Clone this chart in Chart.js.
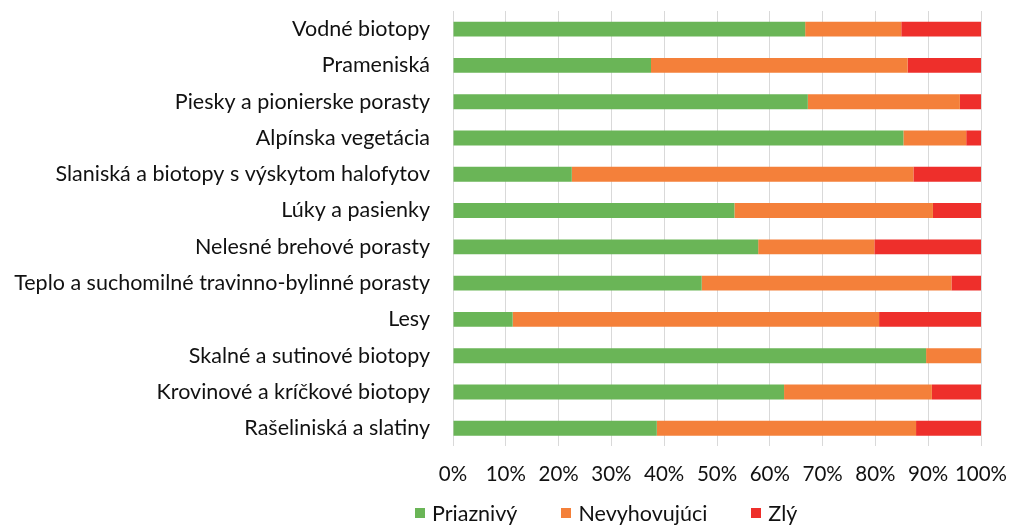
<!DOCTYPE html>
<html>
<head>
<meta charset="utf-8">
<script src="https://cdn.jsdelivr.net/npm/chart.js@4/dist/chart.umd.min.js"></script>
<style>
  html, body { margin: 0; padding: 0; background: #fff; }
  #wrap { position: relative; width: 1009px; height: 525px; }
  #legend {
    position: absolute; top: 502px; left: 415px; line-height: 22px;
    display: flex; font-family: Lato, "Noto Sans", sans-serif; font-size: 21.5px; color: #111;
  }
  #legend .item { display: flex; align-items: center; margin-right: 44px; }
  #legend .box { width: 10px; height: 10px; margin-right: 7px; }
</style>
</head>
<body>
<div id="wrap">
  <canvas id="chart" width="1009" height="525"></canvas>
  <div id="legend"></div>
</div>
<script>
const categories = [
  "Vodné biotopy",
  "Prameniská",
  "Piesky a pionierske porasty",
  "Alpínska vegetácia",
  "Slaniská a biotopy s výskytom halofytov",
  "Lúky a pasienky",
  "Nelesné brehové porasty",
  "Teplo a suchomilné travinno-bylinné porasty",
  "Lesy",
  "Skalné a sutinové biotopy",
  "Krovinové a kríčkové biotopy",
  "Rašeliniská a slatiny"
];
const seriesNames = ["Priaznivý", "Nevyhovujúci", "Zlý"];
const priaznivy    = [66.7, 37.5, 67.2, 85.3, 22.5, 53.3, 57.8, 47.1, 11.3, 89.6, 62.7, 38.6];
const nevyhovujuci = [18.2, 48.6, 28.8, 11.9, 64.7, 37.6, 22.0, 47.3, 69.4, 10.4, 28.0, 49.1];
const zly          = [15.1, 13.9, 4.0, 2.8, 12.8, 9.1, 20.2, 5.6, 19.3, 0, 9.3, 12.3];
const colors = ["#6ab557", "#f4803a", "#ee2f2b"];
const xTicks = [0, 10, 20, 30, 40, 50, 60, 70, 80, 90, 100];

const font = { family: "Lato, 'Noto Sans', sans-serif", size: 21.5 };

const chart = new Chart(document.getElementById("chart"), {
  type: "bar",
  data: {
    labels: categories,
    datasets: [priaznivy, nevyhovujuci, zly].map((d, i) => ({
      label: seriesNames[i],
      data: d,
      backgroundColor: colors[i],
      categoryPercentage: 1,
      barPercentage: 0.41
    }))
  },
  options: {
    indexAxis: "y",
    responsive: false,
    animation: false,
    layout: { padding: { top: 0, right: 0, bottom: 22, left: 0 } },
    plugins: { legend: { display: false }, tooltip: { enabled: false } },
    scales: {
      x: {
        stacked: true,
        min: 0,
        max: 100,
        afterBuildTicks: (s) => { s.ticks = xTicks.map(v => ({ value: v })); },
        afterFit: (s) => { s.paddingRight = 28; s.paddingLeft = 0; },
        ticks: { callback: v => v + "%", font: { ...font, size: 20.5 }, color: "#111", padding: 16, maxRotation: 0, autoSkip: false },
        grid: { color: "#d9d9d9", drawTicks: false },
        border: { display: false }
      },
      y: {
        stacked: true,
        afterFit: (s) => { s.width = 453; s.paddingTop = 11; s.paddingBottom = 0; },
        ticks: { font: { ...font, lineHeight: 1 }, color: "#111", padding: 0 },
        grid: { display: false, drawTicks: true, tickLength: 23 },
        border: { display: false }
      }
    }
  }
});

// legend below the chart
const legend = document.getElementById("legend");
seriesNames.forEach((name, i) => {
  const item = document.createElement("div");
  item.className = "item";
  item.innerHTML = `<span class="box" style="background:${colors[i]}"></span>${name}`;
  legend.appendChild(item);
});
</script>
</body>
</html>
